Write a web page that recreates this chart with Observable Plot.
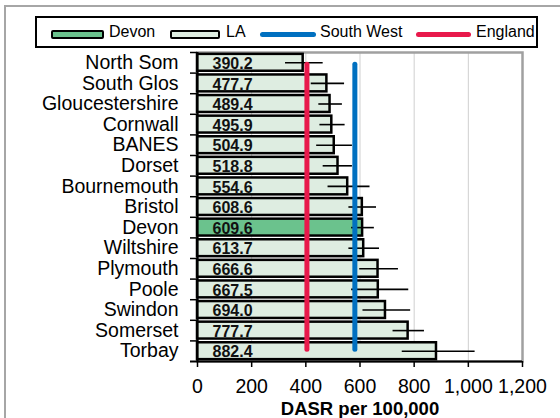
<!DOCTYPE html>
<html>
<head>
<meta charset="utf-8">
<script src="https://cdn.jsdelivr.net/npm/d3@7"></script>
<script src="https://cdn.jsdelivr.net/npm/@observablehq/plot@0.6"></script>
<style>
  html, body { margin: 0; padding: 0; background: #fff; overflow: hidden; width: 560px; height: 418px; }
  #wrap { position: relative; width: 560px; height: 418px; overflow: hidden; font-family: "Liberation Sans", Arial, sans-serif; }
  #outer { position: absolute; left: 4px; top: 5px; width: 556px; height: 413px; border-top: 2px solid #a6a6a6; border-left: 2px solid #a6a6a6; box-sizing: border-box; }
  #chart { position: absolute; left: 0; top: 0; width: 560px; height: 418px; }
  #chart svg { display: block; }
  #cover { position: absolute; left: 549px; top: 8px; width: 11px; height: 410px; background: #fff; }
  #legend { position: absolute; left: 35px; top: 16px; width: 503px; height: 32px; border: 2px solid #000; box-sizing: border-box; background: #fff; font-size: 16px; }
  .sw { position: absolute; top: 12px; height: 9px; box-sizing: border-box; border: 2.5px solid #000; border-radius: 2px; }
  .ln { position: absolute; top: 13.5px; height: 5px; border-radius: 3px; }
  .lt { position: absolute; top: 5px; line-height: 18px; color: #000; }
</style>
</head>
<body>
<div id="wrap">
  <div id="outer"></div>
  <div id="chart"></div>
  <div id="cover"></div>
  <div id="legend">
    <div class="sw" style="left:14px;width:53px;background:#6bc28d"></div><div class="lt" style="left:72px">Devon</div>
    <div class="sw" style="left:133px;width:50px;background:#deede1"></div><div class="lt" style="left:189px">LA</div>
    <div class="ln" style="left:223px;width:56px;background:#0070c0"></div><div class="lt" style="left:283px">South West</div>
    <div class="ln" style="left:379px;width:55px;background:#e8194b"></div><div class="lt" style="left:439px">England</div>
  </div>
</div>
<script>
const names = ["North Som","South Glos","Gloucestershire","Cornwall","BANES","Dorset","Bournemouth","Bristol","Devon","Wiltshire","Plymouth","Poole","Swindon","Somerset","Torbay"];
const values = [390.2,477.7,489.4,495.9,504.9,518.8,554.6,608.6,609.6,613.7,666.6,667.5,694.0,777.7,882.4];
const lower = [325,420,448,452,440,464,482,559,569,559,599,569,611,722,756];
const upper = [464,543,535,545,572,572,637,661,653,672,742,780,787,838,1025];
const southWest = 581;
const england = 404;
const xTicks = [0,200,400,600,800,1000,1200];
const gridTicks = [200,400,600,800,1000];

const data = names.map((n, i) => ({name: n, value: values[i], lo: lower[i], hi: upper[i]}));

const W = 560, H = 418, mT = 52, mB = 57, mL = 197, mR = 38;
const halfStep = (H - mT - mB) / names.length / 2;

const chart = Plot.plot({
  width: W, height: H,
  marginTop: mT, marginBottom: mB, marginLeft: mL, marginRight: mR,
  style: {fontFamily: "'Liberation Sans', Arial, sans-serif", color: "#000", background: "transparent", maxWidth: "none"},
  x: {domain: [0, 1200]},
  y: {domain: names, paddingInner: 0.18, paddingOuter: 0.09, round: false},
  marks: [
    Plot.ruleX(gridTicks, {stroke: "#cfcfcf", strokeWidth: 1}),
    Plot.frame({stroke: "#a0a0a0", strokeWidth: 2.5}),
    Plot.barX(data, {x: "value", y: "name", fill: d => d.name === "Devon" ? "#6bc28d" : "#deede1", stroke: "#000", strokeWidth: 2.5}),
    Plot.ruleY(data, {y: "name", x1: "lo", x2: "hi", stroke: "#000", strokeWidth: 1.6}),
    Plot.ruleX([england], {stroke: "#e8194b", strokeWidth: 5, strokeLinecap: "round", insetTop: halfStep + 2, insetBottom: halfStep + 1.5}),
    Plot.ruleX([southWest], {stroke: "#0070c0", strokeWidth: 5, strokeLinecap: "round", insetTop: halfStep + 2, insetBottom: halfStep + 1.5}),
    Plot.text(data, {x: () => 0, y: "name", text: d => d.value.toFixed(1), dx: 15, dy: 1, textAnchor: "start", fontWeight: "bold", fontSize: 16, fill: "#111"}),
    Plot.ruleX([0], {stroke: "#000", strokeWidth: 2}),
    Plot.ruleY([names[names.length - 1]], {dy: halfStep, stroke: "#000", strokeWidth: 2, insetLeft: -7}),
    Plot.axisY({tickSize: 0, tickPadding: 19, fontSize: 19.5, label: null}),
    Plot.axisY({tickSize: 7, dy: -halfStep, tickFormat: () => "", label: null, strokeWidth: 1.5}),
    Plot.axisX({ticks: xTicks, tickFormat: d3.format(","), tickSize: 6, tickPadding: 12, fontSize: 19.5, label: null, strokeWidth: 1.5}),
    Plot.text(["DASR per 100,000"], {frameAnchor: "bottom", dy: 40, lineAnchor: "top", fontWeight: "bold", fontSize: 18.5, fill: "#000"})
  ]
});
document.getElementById("chart").appendChild(chart);
</script>
</body>
</html>
